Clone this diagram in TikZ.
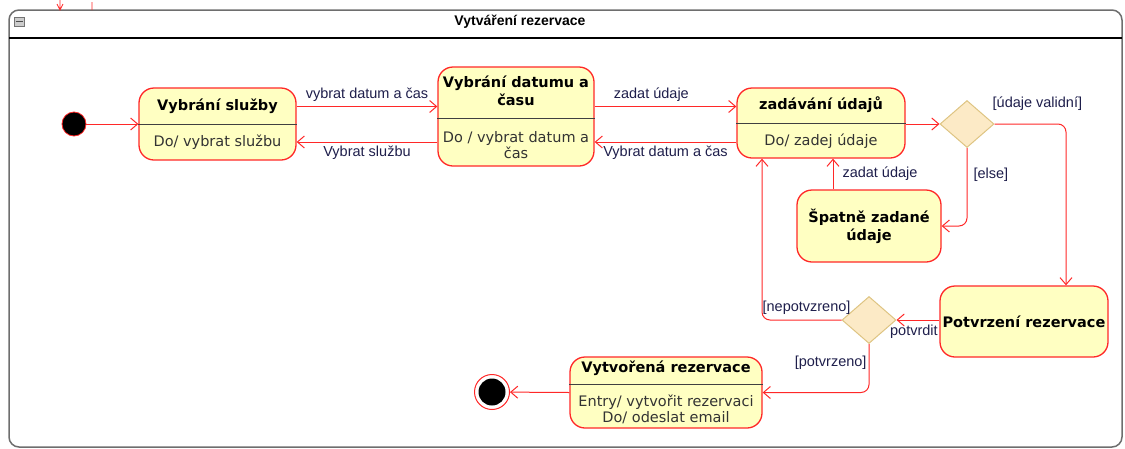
\documentclass[tikz,border=0pt]{standalone}
\usepackage{fontspec}
\setmainfont{Liberation Sans}
\newfontfamily\statefont{DejaVu Sans}
\definecolor{uml_red}{RGB}{255, 40, 40}
\definecolor{uml_fill}{RGB}{255, 255, 194}
\definecolor{uml_dfill}{RGB}{252, 234, 198}
\definecolor{uml_ddraw}{RGB}{222, 196, 130}
\definecolor{uml_text}{RGB}{30, 30, 75}
\definecolor{uml_frame}{RGB}{110, 110, 110}
\usepackage{tikz}
\usetikzlibrary{arrows.meta, shapes.geometric, calc}

\begin{document}
\begin{tikzpicture}[x=1pt, y=-1pt, font=\fontsize{14.5}{16}\selectfont,
          stav/.style={draw=uml_red, fill=uml_fill, line width=1.3pt,
                       rounded corners=15pt, inner sep=0pt},
          hlav/.style={font=\statefont\bfseries\fontsize{14.5}{18}\selectfont,
                       align=center, inner sep=0pt},
          telo/.style={font=\statefont\fontsize{14.5}{16}\selectfont,
                       align=center, inner sep=0pt, text=black!80},
          deleni/.style={black!75, line width=1pt},
          rozh/.style={diamond, draw=uml_ddraw, fill=uml_dfill, line width=1pt,
                       inner sep=0pt, minimum width=54pt, minimum height=47pt},
          prech/.style={-{Straight Barb[length=7pt, width=12pt]}, uml_red,
                        line width=1pt},
          popis/.style={text=uml_text, inner sep=1pt}]
          \useasboundingbox (0,0) rectangle (1125,448);
          \draw[uml_frame, line width=1.5pt, rounded corners=10pt]
            (9,10) rectangle (1122,447);
          \draw[black, line width=1.2pt] (9,38) -- (1122,38);
          \draw[black!55, fill=black!20, line width=0.6pt] (14,17) rectangle (24,26);
          \draw[black!70, line width=1.2pt] (15.5,21.5) -- (22.5,21.5);
          \node[font=\bfseries\fontsize{14}{16}\selectfont] (nazev) at (520,22)
            {Vytváření rezervace};
          \draw[uml_red, line width=0.8pt] (57,4) -- (60,10) -- (63,4)
            (60,0) -- (60,10) (92,2) -- (92,10);

          \node[circle, fill=black, draw=uml_red, line width=0.8pt,
                minimum size=24pt, inner sep=0pt] (start) at (74,124) {};
          \node[circle, fill=white, draw=uml_red, line width=1pt,
                minimum size=35pt, inner sep=0pt] (konec) at (492,392) {};
          \node[circle, fill=black, minimum size=27pt, inner sep=0pt]
            (konec-v) at (konec) {};

          \node[stav, minimum width=157pt, minimum height=72pt] (sluzba)
            at (217.5,124) {};
          \node[hlav] (sluzba-h) at (217.5,106) {Vybrání služby};
          \draw[deleni] (sluzba.west) -- (sluzba.east);
          \node[telo] (sluzba-t) at (217.5,142) {Do/ vybrat službu};

          \node[stav, minimum width=156pt, minimum height=99pt] (datum)
            at (516,116.5) {};
          \node[hlav] (datum-h) at (516,91) {Vybrání datumu a\\času};
          \draw[deleni] ($(datum.west)+(0,1.5)$) -- ($(datum.east)+(0,1.5)$);
          \node[telo] (datum-t) at (516,145) {Do / vybrat datum a\\čas};

          \node[stav, minimum width=168pt, minimum height=70pt] (zadani)
            at (821,123) {};
          \node[hlav] (zadani-h) at (821,105) {zadávání údajů};
          \draw[deleni] (zadani.west) -- (zadani.east);
          \node[telo] (zadani-t) at (821,141) {Do/ zadej údaje};

          \node[stav, hlav, minimum width=144pt, minimum height=72pt] (spatne)
            at (869,226) {Špatně zadané\\údaje};
          \node[stav, hlav, minimum width=168pt, minimum height=71pt] (potvrzeni)
            at (1024,321.5) {Potvrzení rezervace};

          \node[stav, minimum width=192pt, minimum height=71pt] (vytvorena)
            at (666,392.5) {};
          \node[hlav] (vytvorena-h) at (666,368) {Vytvořená rezervace};
          \draw[deleni] ($(vytvorena.west)+(0,-8.5)$) -- ($(vytvorena.east)+(0,-8.5)$);
          \node[telo] (vytvorena-t) at (666,409)
            {Entry/ vytvořit rezervaci\\Do/ odeslat email};

          \node[rozh] (rozh1) at (967,124) {};
          \node[rozh] (rozh2) at (869,320) {};

          \coordinate (s1) at ($(sluzba.east)+(0,-17.5)$);
          \coordinate (s2) at ($(sluzba.east)+(0,18)$);
          \coordinate (d1) at ($(datum.east)+(0,-10)$);
          \coordinate (d2) at ($(datum.east)+(0,25.5)$);
          \coordinate (z1) at ($(spatne.north)+(-36,0)$);

          \draw[prech] (start) -- (sluzba);
          \draw[prech] (s1) -- (s1 -| datum.west)
            node[popis, midway, above=3pt] {vybrat datum a čas};
          \draw[prech] (s2 -| datum.west) -- (s2)
            node[popis, midway, below=2pt] {Vybrat službu};
          \draw[prech] (d1) -- (d1 -| zadani.west)
            node[popis, pos=0.4, above=3pt] {zadat údaje};
          \draw[prech] (d2 -| zadani.west) -- (d2)
            node[popis, midway, below=2pt] {Vybrat datum a čas};
          \draw[prech] (zadani.east |- rozh1.west) -- (rozh1.west);
          \draw[prech, rounded corners=8pt] (rozh1.east)
            -| ($(potvrzeni.north)+(42,0)$)
            node[popis, pos=0.3, above=12pt] {[údaje validní]};
          \draw[prech, rounded corners=8pt] (rozh1.south) |- (spatne.east)
            node[popis, pos=0.17, right=5pt] {[else]};
          \draw[prech] (z1) -- (z1 |- zadani.south)
            node[popis, midway, right=8pt] {zadat údaje};
          \draw[prech] (potvrzeni.west |- rozh2.east) -- (rozh2.east)
            node[popis, midway, below=3pt, xshift=-4pt] {potvrdit};
          \draw[prech, rounded corners=8pt] (rozh2.west)
            -| ($(zadani.south)+(-59,0)$)
            node[popis, pos=0.22, above=4pt] {[nepotvzreno]};
          \draw[prech, rounded corners=8pt] (rozh2.south) |- (vytvorena.east)
            node[popis, pos=0.19, left=1pt] {[potvrzeno]};
          \draw[prech] (vytvorena.west) -- (konec);
        \end{tikzpicture}
\end{document}
